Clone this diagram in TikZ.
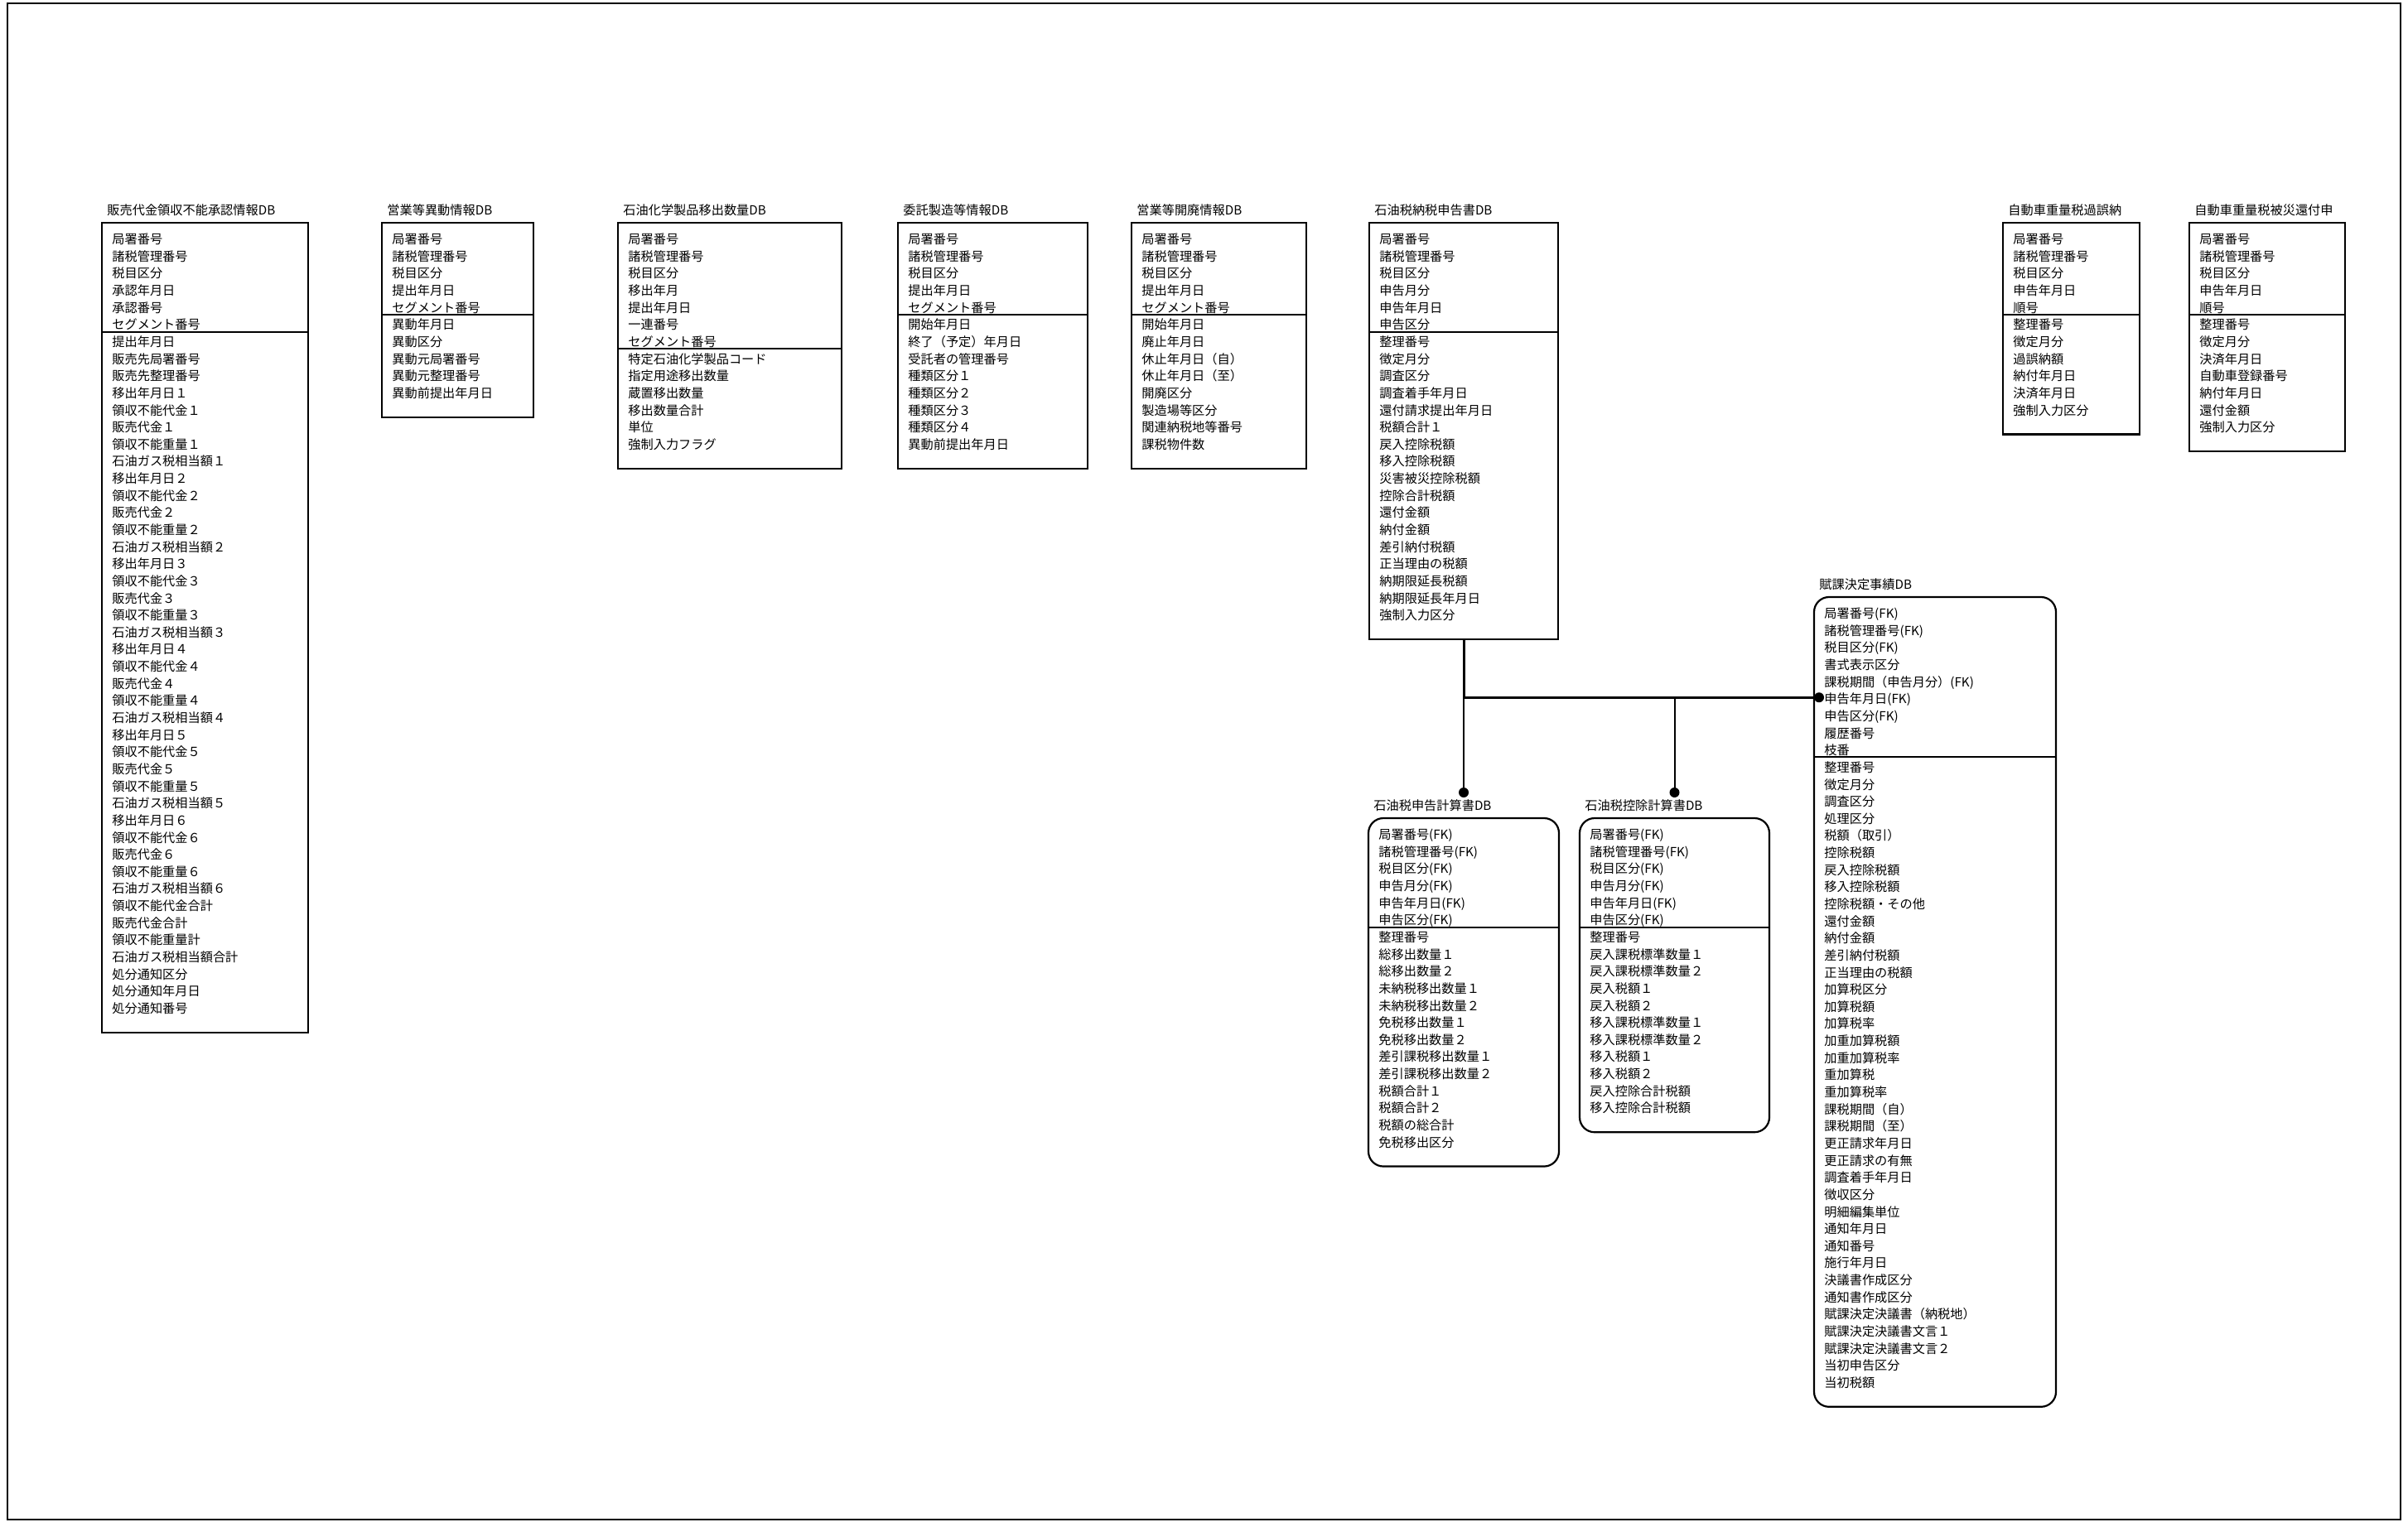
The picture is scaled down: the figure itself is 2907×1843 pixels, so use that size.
\documentclass[tikz,border=0pt]{standalone}
\usepackage{fontspec}
\setmainfont{Noto Sans CJK JP}
\usetikzlibrary{calc}
\tikzset{
  tbl/.style={draw, line width=1.1pt, inner sep=0pt, outer sep=0pt},
  tblr/.style={tbl, rounded corners=9pt},
  divider/.style={line width=1.0pt},
  rowtext/.style={anchor=west, inner sep=0pt, font=\fontsize{7.6pt}{9pt}\selectfont, text height=0.88em, text depth=0.12em},
  titletext/.style={anchor=west, inner sep=0pt, font=\fontsize{7.6pt}{9pt}\selectfont, text height=0.88em, text depth=0.12em},
  connthick/.style={line width=1.5pt},
  connthin/.style={line width=1.0pt},
  dot/.style={circle, fill=black, inner sep=0pt, minimum size=6pt},
  frame/.style={line width=1.2pt}
}
% #1 name, #2 x, #3 top y, #4 width, #5 style, #6 title, #7 keys, #8 non-keys
\newcommand\ertable[8]{%
  \node[titletext] (#1-title) at (#2+6,#3-17) {#6};
  \foreach \itm [count=\i] in {#7} {%
    \pgfmathsetmacro\yy{#3+18+(\i-1)*20.64}
    \node[rowtext] (#1-k\i) at (#2+12,\yy) {\itm};
    \xdef\erNk{\i}}
  \foreach \itm [count=\i] in {#8} {%
    \pgfmathsetmacro\yy{#3+18+(\erNk+\i-1)*20.64}
    \node[rowtext] (#1-n\i) at (#2+12,\yy) {\itm};
    \xdef\erNn{\i}}
  \pgfmathsetmacro\hh{49+(\erNk+\erNn-1)*20.64}
  \pgfmathsetmacro\yd{#3+18+(\erNk-0.5)*20.64}
  \node[#5, minimum width=#4*0.5pt, minimum height=\hh*0.5pt, anchor=north west] (#1) at (#2,#3) {};
  \draw[divider] (#2,\yd) -- (#2+#4,\yd);
}
\begin{document}
\begin{tikzpicture}[x=0.5pt, y=-0.5pt]
\useasboundingbox (0,0) rectangle (2907,1843);
\draw[frame] (9,4) rectangle (2898,1835);

\ertable{t1}{123}{269}{249}{tbl}{販売代金領収不能承認情報DB}
 {局署番号,諸税管理番号,税目区分,承認年月日,承認番号,セグメント番号}
 {提出年月日,販売先局署番号,販売先整理番号,
  移出年月日１,領収不能代金１,販売代金１,領収不能重量１,石油ガス税相当額１,
  移出年月日２,領収不能代金２,販売代金２,領収不能重量２,石油ガス税相当額２,
  移出年月日３,領収不能代金３,販売代金３,領収不能重量３,石油ガス税相当額３,
  移出年月日４,領収不能代金４,販売代金４,領収不能重量４,石油ガス税相当額４,
  移出年月日５,領収不能代金５,販売代金５,領収不能重量５,石油ガス税相当額５,
  移出年月日６,領収不能代金６,販売代金６,領収不能重量６,石油ガス税相当額６,
  領収不能代金合計,販売代金合計,領収不能重量計,石油ガス税相当額合計,
  処分通知区分,処分通知年月日,処分通知番号}

\ertable{t2}{461}{269}{183}{tbl}{営業等異動情報DB}
 {局署番号,諸税管理番号,税目区分,提出年月日,セグメント番号}
 {異動年月日,異動区分,異動元局署番号,異動元整理番号,異動前提出年月日}

\ertable{t3}{746}{269}{270}{tbl}{石油化学製品移出数量DB}
 {局署番号,諸税管理番号,税目区分,移出年月,提出年月日,一連番号,セグメント番号}
 {特定石油化学製品コード,指定用途移出数量,蔵置移出数量,移出数量合計,単位,強制入力フラグ}

\ertable{t4}{1084}{269}{229}{tbl}{委託製造等情報DB}
 {局署番号,諸税管理番号,税目区分,提出年月日,セグメント番号}
 {開始年月日,終了（予定）年月日,受託者の管理番号,種類区分１,種類区分２,種類区分３,種類区分４,異動前提出年月日}

\ertable{t5}{1366}{269}{211}{tbl}{営業等開廃情報DB}
 {局署番号,諸税管理番号,税目区分,提出年月日,セグメント番号}
 {開始年月日,廃止年月日,休止年月日（自）,休止年月日（至）,開廃区分,製造場等区分,関連納税地等番号,課税物件数}

\ertable{t6}{1653}{269}{228}{tbl}{石油税納税申告書DB}
 {局署番号,諸税管理番号,税目区分,申告月分,申告年月日,申告区分}
 {整理番号,徴定月分,調査区分,調査着手年月日,還付請求提出年月日,税額合計１,戻入控除税額,移入控除税額,災害被災控除税額,控除合計税額,還付金額,納付金額,差引納付税額,正当理由の税額,納期限延長税額,納期限延長年月日,強制入力区分}

\ertable{t7}{2418}{269}{165}{tbl}{自動車重量税過誤納}
 {局署番号,諸税管理番号,税目区分,申告年月日,順号}
 {整理番号,徴定月分,過誤納額,納付年月日,決済年月日,強制入力区分}

\ertable{t8}{2643}{269}{188}{tbl}{自動車重量税被災還付申}
 {局署番号,諸税管理番号,税目区分,申告年月日,順号}
 {整理番号,徴定月分,決済年月日,自動車登録番号,納付年月日,還付金額,強制入力区分}

\ertable{t9}{1652}{988}{230}{tblr}{石油税申告計算書DB}
 {局署番号(FK),諸税管理番号(FK),税目区分(FK),申告月分(FK),申告年月日(FK),申告区分(FK)}
 {整理番号,総移出数量１,総移出数量２,未納税移出数量１,未納税移出数量２,免税移出数量１,免税移出数量２,差引課税移出数量１,差引課税移出数量２,税額合計１,税額合計２,税額の総合計,免税移出区分}

\ertable{t10}{1907}{988}{229}{tblr}{石油税控除計算書DB}
 {局署番号(FK),諸税管理番号(FK),税目区分(FK),申告月分(FK),申告年月日(FK),申告区分(FK)}
 {整理番号,戻入課税標準数量１,戻入課税標準数量２,戻入税額１,戻入税額２,移入課税標準数量１,移入課税標準数量２,移入税額１,移入税額２,戻入控除合計税額,移入控除合計税額}

\ertable{t11}{2190}{721}{292}{tblr}{賦課決定事績DB}
 {局署番号(FK),諸税管理番号(FK),税目区分(FK),書式表示区分,課税期間（申告月分）(FK),申告年月日(FK),申告区分(FK),履歴番号,枝番}
 {整理番号,徴定月分,調査区分,処理区分,税額（取引）,控除税額,戻入控除税額,移入控除税額,控除税額・その他,還付金額,納付金額,差引納付税額,正当理由の税額,加算税区分,加算税額,加算税率,加重加算税額,加重加算税率,重加算税,重加算税率,課税期間（自）,課税期間（至）,更正請求年月日,更正請求の有無,調査着手年月日,徴収区分,明細編集単位,通知年月日,通知番号,施行年月日,決議書作成区分,通知書作成区分,賦課決定決議書（納税地）,賦課決定決議書文言１,賦課決定決議書文言２,当初申告区分,当初税額}

% connectors
\coordinate (j1) at (t6.south |- t11-k6);
\coordinate (j2) at (t10.north |- t11-k6);
\node[dot] (d9) at (t9.north |- 0,957) {};
\node[dot] (d10) at (t10.north |- 0,957) {};
\node[dot] (d11) at ([xshift=3pt]t11.west |- t11-k6) {};
\draw[connthick] (t6.south) -- (j1) -- (d11.center);
\draw[connthin] (j1) -- (d9.center);
\draw[connthin] (j2) -- (d10.center);
\end{tikzpicture}
\end{document}
